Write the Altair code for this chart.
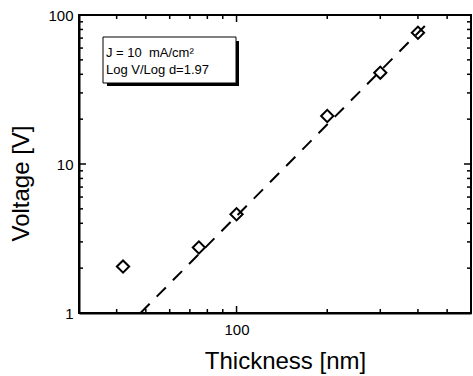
import altair as alt
import pandas as pd

# Data
thickness = [42, 75, 100, 200, 300, 400]
voltage = [2.05, 2.75, 4.6, 21, 41, 76]
fit_thickness = [48, 435]
fit_voltage = [1.0, 90]
x_minor = [40, 50, 60, 70, 80, 90, 200, 300, 400, 500]
x_major = [100]
y_minor = [2, 3, 4, 5, 6, 7, 8, 9, 20, 30, 40, 50, 60, 70, 80, 90]
y_major = [10]
x_labels = [100]
y_labels = [1, 10, 100]
legend_lines = ["J = 10\u00a0\u00a0mA/cm\u00b2", "Log V/Log d=1.97"]

W, H = 392, 298
FONT = "Liberation Sans"

xscale = alt.Scale(type="log", domain=[30, 600], nice=False)
yscale = alt.Scale(type="log", domain=[1, 100], nice=False)

xaxis = alt.Axis(values=x_labels, tickSize=0, labelFontSize=15, labelPadding=9,
                 titleFontSize=24, titleX=206, titleY=55, titleBaseline="alphabetic",
                 grid=False,
                 labelFont=FONT, titleFont=FONT, titleFontWeight="normal",
                 labelColor="black", titleColor="black", domainColor="black",
                 domainWidth=2, format="d")
yaxis = alt.Axis(values=y_labels, tickSize=0, labelFontSize=15, labelPadding=6,
                 titleFontSize=24, titleX=-51, titleY=168, titleBaseline="alphabetic",
                 grid=False,
                 labelFont=FONT, titleFont=FONT, titleFontWeight="normal",
                 labelColor="black", titleColor="black", domainColor="black",
                 domainWidth=2, format="d")
XT = "Thickness [nm]"
YT = "Voltage [V]"

pts = pd.DataFrame({"t": thickness, "v": voltage})
fit = pd.DataFrame({"t": fit_thickness, "v": fit_voltage})

points = alt.Chart(pts).mark_point(
    shape="diamond", size=150, filled=False, color="black", strokeWidth=2, opacity=1
).encode(
    x=alt.X("t:Q", scale=xscale, title=XT, axis=xaxis),
    y=alt.Y("v:Q", scale=yscale, title=YT, axis=yaxis),
)

line = alt.Chart(fit).mark_line(color="black", strokeWidth=2, strokeDash=[13, 10], clip=True).encode(
    x=alt.X("t:Q", scale=xscale, title=XT, axis=xaxis),
    y=alt.Y("v:Q", scale=yscale, title=YT, axis=yaxis),
)


def yticks(vals, x0, x1):
    return alt.Chart(pd.DataFrame({"v": vals})).mark_rule(color="black", strokeWidth=1.5).encode(
        y=alt.Y("v:Q", scale=yscale, title=YT, axis=yaxis), x=alt.value(x0), x2=alt.value(x1))


def xticks(vals, y0, y1):
    return alt.Chart(pd.DataFrame({"t": vals})).mark_rule(color="black", strokeWidth=1.5).encode(
        x=alt.X("t:Q", scale=xscale, title=XT, axis=xaxis), y=alt.value(y0), y2=alt.value(y1))


ticks = [
    yticks(y_minor, 0, 4), yticks(y_major, 0, 7),
    yticks(y_minor, W, W - 4), yticks(y_major, W, W - 7),
    xticks(x_minor, H, H - 4), xticks(x_major, H, H - 7),
    xticks(x_minor, 0, 4), xticks(x_major, 0, 7),
]

one = pd.DataFrame({"a": [0]})
shadow = alt.Chart(one).mark_rect(fill="black").encode(
    x=alt.value(28), x2=alt.value(160), y=alt.value(26), y2=alt.value(71))
box = alt.Chart(one).mark_rect(fill="white", stroke="black", strokeWidth=1).encode(
    x=alt.value(24), x2=alt.value(157), y=alt.value(22), y2=alt.value(68))
txt1 = alt.Chart(one).mark_text(align="left", baseline="alphabetic", fontSize=13,
                                font=FONT, color="black").encode(
    x=alt.value(27), y=alt.value(42), text=alt.value(legend_lines[0]))
txt2 = alt.Chart(one).mark_text(align="left", baseline="alphabetic", fontSize=13,
                                font=FONT, color="black").encode(
    x=alt.value(27), y=alt.value(59), text=alt.value(legend_lines[1]))

chart = alt.layer(line, points, *ticks, shadow, box, txt1, txt2).properties(
    width=W, height=H,
    autosize=alt.AutoSizeParams(type="none"),
    padding={"left": 79, "top": 15, "right": 2, "bottom": 63},
    background="white",
).configure_view(stroke="black", strokeWidth=2)

chart.save("out.html", embed_options={"renderer": "svg", "actions": False})
